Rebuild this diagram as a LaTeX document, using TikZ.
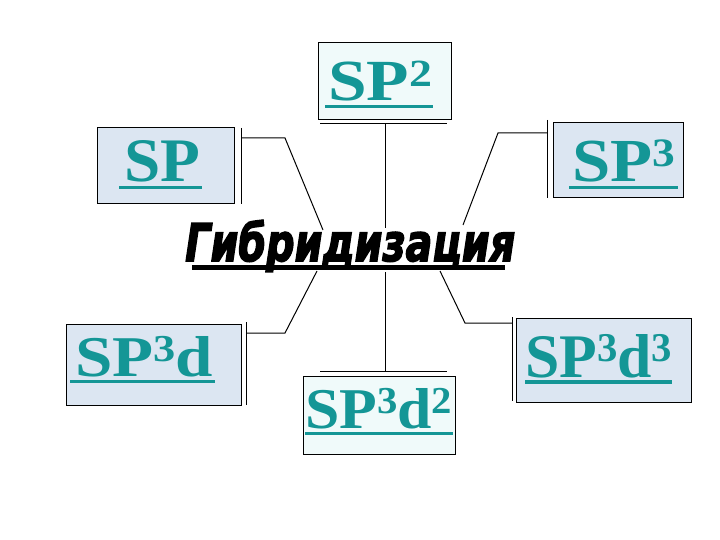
\documentclass[tikz,border=0pt]{standalone}
\usepackage{fontspec}
\setmainfont{Liberation Serif}
\newfontfamily\titlefont[BoldItalicFeatures={FakeBold=3}]{DejaVu Sans}
\usetikzlibrary{calc}
\definecolor{tealtx}{RGB}{20,150,150}
\definecolor{boxblue}{RGB}{220,230,242}
\definecolor{boxcyan}{RGB}{240,250,250}
\newcommand\supx[1]{\raisebox{0.25em}{\scalebox{0.66}{#1}}}
\newcommand\fitlbl[3]{\resizebox{#1pt}{#2pt}{\bfseries #3}}
\begin{document}
\begin{tikzpicture}[x=1pt,y=-1pt,
  box/.style={draw=black, line width=1pt, inner sep=0pt},
  lbl/.style={inner sep=0pt, anchor=base west, text=tealtx},
  uline/.style={draw=tealtx, line width=3.8pt},
  bar/.style={draw=black, line width=1pt},
  conn/.style={draw=black, line width=1pt}]
\useasboundingbox (0,0) rectangle (720,540);

% bars beside boxes
\coordinate (k1t) at (241,128); \coordinate (k1b) at (241,204);
\coordinate (k2l) at (320,124); \coordinate (k2r) at (447,124);
\coordinate (k3t) at (547,120); \coordinate (k3b) at (547,198);
\coordinate (k4t) at (246,322); \coordinate (k4b) at (246,405);
\coordinate (k5l) at (320,371); \coordinate (k5r) at (447,371);
\coordinate (k6t) at (512,317); \coordinate (k6b) at (512,401);
\draw[bar] (k1t) -- (k1b);
\draw[bar] (k2l) -- (k2r);
\draw[bar] (k3t) -- (k3b);
\draw[bar] (k4t) -- (k4b);
\draw[bar] (k5l) -- (k5r);
\draw[bar] (k6t) -- (k6b);

% connector points
\coordinate (c1a) at (241,138); \coordinate (c1b) at (285,138); \coordinate (c1c) at (323,230);
\coordinate (c2a) at (385,124); \coordinate (c2c) at (385,228);
\coordinate (c3a) at (547,133); \coordinate (c3b) at (498,133); \coordinate (c3c) at (463,225);
\coordinate (c4a) at (246,333); \coordinate (c4b) at (285,333); \coordinate (c4c) at (317,271);
\coordinate (c5a) at (385,371); \coordinate (c5c) at (385,272);
\coordinate (c6a) at (512,323); \coordinate (c6b) at (465,323); \coordinate (c6c) at (440,271);
\draw[conn] (c1a) -- (c1b) -- (c1c);
\draw[conn] (c2a) -- (c2c);
\draw[conn] (c3a) -- (c3b) -- (c3c);
\draw[conn] (c4a) -- (c4b) -- (c4c);
\draw[conn] (c5a) -- (c5c);
\draw[conn] (c6a) -- (c6b) -- (c6c);

% boxes
\node[box, fill=boxblue, minimum width=137pt, minimum height=76pt] (b1) at (165.5,166) {};
\node[box, fill=boxcyan, minimum width=133pt, minimum height=77pt] (b2) at (384.5,81.5) {};
\node[box, fill=boxblue, minimum width=130pt, minimum height=75pt] (b3) at (618,160.5) {};
\node[box, fill=boxblue, minimum width=175pt, minimum height=81pt] (b4) at (153.5,364.5) {};
\node[box, fill=boxcyan, minimum width=152pt, minimum height=78pt] (b5) at (379,415) {};
\node[box, fill=boxblue, minimum width=175pt, minimum height=84pt] (b6) at (603.5,360) {};

% labels
\node[lbl] (t1) at (124,182) {\fitlbl{76}{41}{SP}};
\node[lbl] (t2) at (328,101) {\fitlbl{104}{40}{SP\supx{2}}};
\node[lbl] (t3) at (572,182) {\fitlbl{103}{42}{SP\supx{3}}};
\node[lbl] (t4) at (75,376) {\fitlbl{138}{40}{SP\supx{3}d}};
\node[lbl] (t5) at (305,428) {\fitlbl{147}{40}{SP\supx{3}d\supx{2}}};
\node[lbl] (t6) at (525,377) {\fitlbl{147}{43}{SP\supx{3}d\supx{3}}};

\draw[uline] ($(t1.base west)+(-5,5.5)$) -- ($(t1.base east)+(2,5.5)$);
\draw[uline] ($(t2.base west)+(-3,5.5)$) -- ($(t2.base east)+(1,5.5)$);
\draw[uline] ($(t3.base west)+(-3,5.5)$) -- ($(t3.base east)+(3,5.5)$);
\draw[uline] ($(t4.base west)+(-5,5.5)$) -- ($(t4.base east)+(2,5.5)$);
\draw[uline] ($(t5.base west)+(0,5.5)$) -- ($(t5.base east)+(1,5.5)$);
\draw[uline] ($(t6.base west)+(0,5)$) -- ($(t6.base east)+(0,5)$);

% title
\node[inner sep=0pt, anchor=base west] (title) at (185,261)
  {\resizebox{330pt}{41pt}{\titlefont\bfseries\itshape Гибридизация}};
\draw[line width=5.5pt] ($(title.base west)+(7,6.5)$) -- ($(title.base east)+(-10,6.5)$);
\end{tikzpicture}
\end{document}
